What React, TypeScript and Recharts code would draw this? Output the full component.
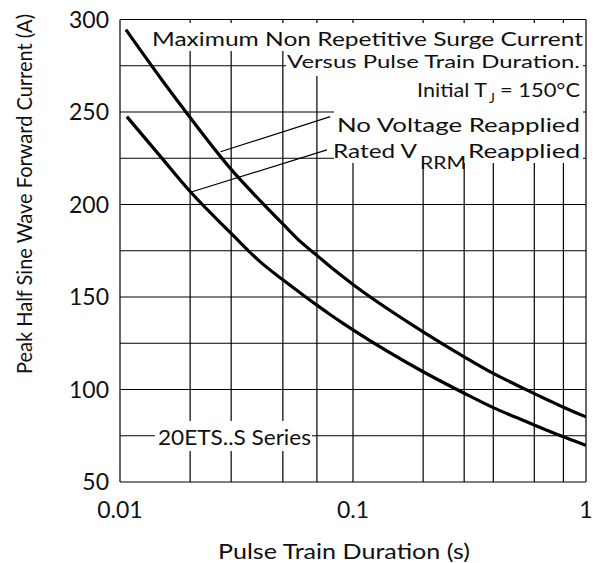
import React from 'react'
import { LineChart, Line, XAxis, YAxis, CartesianGrid, ReferenceLine, Customized } from 'recharts'

// pulse train duration (s) and peak current (A)
const noVoltageT = [0.0106, 0.015, 0.02, 0.03, 0.04, 0.05, 0.06, 0.07, 0.08, 0.09, 0.1, 0.2, 0.3, 0.4, 0.5, 0.6, 0.7, 0.8, 0.9, 1]
const noVoltageA = [294.5, 268, 247, 219, 202, 189.5, 179.5, 172.5, 166.3, 161.2, 156.8, 131.2, 117.7, 108.7, 102.6, 97.8, 93.8, 90.4, 87.6, 85.2]
const ratedT = [0.0107, 0.015, 0.02, 0.03, 0.04, 0.05, 0.06, 0.07, 0.08, 0.09, 0.1, 0.2, 0.3, 0.4, 0.5, 0.6, 0.7, 0.8, 0.9, 1]
const ratedA = [247.5, 225.6, 207, 184.4, 169, 159.3, 151.8, 145.6, 140.4, 136, 132.2, 109.6, 98, 90.2, 85, 80.8, 77.3, 74.4, 72, 69.8]

const xTicks = [0.01, 0.1, 1]
const yTicks = [50, 100, 150, 200, 250, 300]
const gridX = [0.01, 0.02, 0.03, 0.04, 0.05, 0.06, 0.07, 0.08, 0.09, 0.1, 0.2, 0.3, 0.4, 0.5, 0.6, 0.7, 0.8, 0.9, 1]
const gridY = [50, 75, 100, 125, 150, 175, 200, 225, 250, 275, 300]

// leader lines from the labels to the curves
const noVoltageLeader = [{ x: 0.027, y: 228.5 }, { x: 0.0799, y: 247.5 }]
const ratedLeader = [{ x: 0.0204, y: 206.9 }, { x: 0.0773, y: 229.5 }]

const noVoltage = noVoltageT.map((t, i) => ({ t, v: noVoltageA[i] }))
const rated = ratedT.map((t, i) => ({ t, v: ratedA[i] }))

const FONT = 'Lato, "DejaVu Sans", sans-serif'
const INK = '#111'

const Annotations = () => (
  <g fontFamily={FONT} fill={INK}>
    {/* white boxes that knock out the grid behind the labels */}
    <rect x={150} y={23} width={433} height={28} fill="#fff" />
    <rect x={286} y={51} width={297} height={25} fill="#fff" />
    <rect x={334} y={76} width={249} height={87} fill="#fff" />
    <rect x={155} y={421} width={157} height={30} fill="#fff" />

    <text x={152} y={45.5} fontSize={18.5} textLength={431} lengthAdjust="spacingAndGlyphs">Maximum Non Repetitive Surge Current</text>
    <text x={287} y={67.5} fontSize={18} textLength={293} lengthAdjust="spacingAndGlyphs">Versus Pulse Train Duration.</text>
    <text x={417} y={97} fontSize={20} textLength={70} lengthAdjust="spacingAndGlyphs">Initial T</text>
    <text x={489} y={103} fontSize={14}>J</text>
    <text x={500} y={97} fontSize={20} textLength={80} lengthAdjust="spacingAndGlyphs">= 150°C</text>
    <text x={337} y={132} fontSize={20} textLength={243} lengthAdjust="spacingAndGlyphs">No Voltage Reapplied</text>
    <text x={333} y={158} fontSize={20} textLength={84} lengthAdjust="spacingAndGlyphs">Rated V</text>
    <text x={420} y={169} fontSize={17} textLength={46} lengthAdjust="spacingAndGlyphs">RRM</text>
    <text x={468} y={158} fontSize={20} textLength={112} lengthAdjust="spacingAndGlyphs">Reapplied</text>
    <text x={158} y={445} fontSize={22} textLength={153} lengthAdjust="spacingAndGlyphs">20ETS..S Series</text>

    <text x={344} y={559} fontSize={21} textAnchor="middle" textLength={252} lengthAdjust="spacingAndGlyphs">Pulse Train Duration (s)</text>
    <text transform="translate(32,194) rotate(-90)" fontSize={20.5} textAnchor="middle" textLength={360} lengthAdjust="spacingAndGlyphs">Peak Half Sine Wave Forward Current (A)</text>
  </g>
)

export default function App() {
  return (
    <div style={{ position: 'absolute', left: 0, top: 0, width: 604, height: 563, background: '#fff' }}>
      <LineChart width={604} height={563} margin={{ top: 19.5, right: 18, bottom: 0, left: 0 }}>
        <CartesianGrid stroke="#000" strokeWidth={1.2} horizontalValues={gridY} verticalValues={gridX} />
        <XAxis
          type="number"
          dataKey="t"
          scale="log"
          domain={[0.01, 1]}
          ticks={xTicks}
          allowDataOverflow
          height={81}
          tickSize={0}
          tickMargin={20}
          axisLine={false}
          tickLine={false}
          tickFormatter={(v: number) => String(v)}
          tick={{ fill: INK, fontSize: 23, fontFamily: FONT }}
        />
        <YAxis
          type="number"
          domain={[50, 300]}
          ticks={yTicks}
          allowDataOverflow
          width={120}
          tickSize={0}
          tickMargin={11}
          axisLine={false}
          tickLine={false}
          tick={{ fill: INK, fontSize: 23, fontFamily: FONT }}
        />
        <ReferenceLine segment={noVoltageLeader} stroke="#000" strokeWidth={1.2} />
        <ReferenceLine segment={ratedLeader} stroke="#000" strokeWidth={1.2} />
        <Line data={noVoltage} dataKey="v" type="monotone" stroke="#000" strokeWidth={3.2} dot={false} isAnimationActive={false} />
        <Line data={rated} dataKey="v" type="monotone" stroke="#000" strokeWidth={3.2} dot={false} isAnimationActive={false} />
        <Customized component={Annotations} />
      </LineChart>
    </div>
  )
}
